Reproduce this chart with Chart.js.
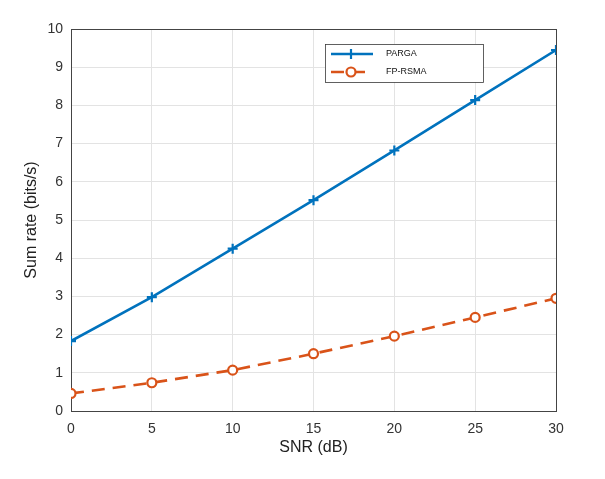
<!DOCTYPE html>
<html><head><meta charset="utf-8">
<script src="https://cdn.jsdelivr.net/npm/chart.js@4.4.1/dist/chart.umd.min.js"></script>
<style>html,body{margin:0;padding:0;background:#fff}#wrap{width:605px;height:479px}</style>
</head><body><div id="wrap"><canvas id="c"></canvas></div>
<script>
const snr = [0, 5, 10, 15, 20, 25, 30];
const parga = [1.83, 2.98, 4.25, 5.52, 6.82, 8.14, 9.45];
const fprsma = [0.46, 0.74, 1.07, 1.50, 1.96, 2.45, 2.95];
const seriesNames = ['PARGA', 'FP-RSMA'];
const FONT = "'Liberation Sans', Arial, sans-serif";

const legendBox = {
  id: 'legendBox',
  afterDraw(chart) {
    const ctx = chart.ctx;
    const x0 = 325, y0 = 44, w = 158, h = 38;
    ctx.save();
    ctx.fillStyle = '#fff';
    ctx.fillRect(x0, y0, w, h);
    ctx.strokeStyle = '#3a3a3a';
    ctx.lineWidth = 0.8;
    ctx.strokeRect(x0 + 0.5, y0 + 0.5, w, h);
    chart.data.datasets.forEach((ds, i) => {
      const y = y0 + 10 + i * 18;
      ctx.strokeStyle = ds.borderColor;
      ctx.lineWidth = 2.5;
      ctx.setLineDash(ds.borderDash || []);
      ctx.beginPath();
      ctx.moveTo(331, y);
      ctx.lineTo(i === 0 ? 373 : 365, y);
      ctx.stroke();
      ctx.setLineDash([]);
      ctx.fillStyle = ds.pointBackgroundColor;
      ctx.strokeStyle = ds.borderColor;
      ctx.lineWidth = ds.pointBorderWidth;
      ctx.beginPath();
      if (ds.pointStyle === 'circle') {
        ctx.arc(351, y, ds.pointRadius, 0, Math.PI * 2);
        ctx.fill(); ctx.stroke();
      } else {
        ctx.moveTo(351 - ds.pointRadius, y); ctx.lineTo(351 + ds.pointRadius, y);
        ctx.moveTo(351, y - ds.pointRadius); ctx.lineTo(351, y + ds.pointRadius);
        ctx.stroke();
      }
      ctx.fillStyle = '#111';
      ctx.font = "9px " + FONT;
      ctx.textBaseline = 'middle';
      ctx.textAlign = 'left';
      ctx.fillText(ds.label, 386, y);
    });
    ctx.restore();
  }
};

new Chart(document.getElementById('c'), {
  type: 'line',
  data: {
    datasets: [
      {
        label: seriesNames[0],
        data: snr.map((x, i) => ({x, y: parga[i]})),
        borderColor: '#0072BD', backgroundColor: '#0072BD',
        borderWidth: 2.6, pointStyle: 'cross', pointRadius: 5, pointBorderWidth: 2.2,
        pointBackgroundColor: '#0072BD', tension: 0
      },
      {
        label: seriesNames[1],
        data: snr.map((x, i) => ({x, y: fprsma[i]})),
        borderColor: '#D95319', backgroundColor: '#fff',
        borderWidth: 2.6, borderDash: [13, 8], pointStyle: 'circle', pointRadius: 4.5, pointBorderWidth: 2.2,
        pointBackgroundColor: '#fff', tension: 0
      }
    ]
  },
  options: {
    responsive: true, maintainAspectRatio: false, animation: false,
    layout: { padding: { left: 22, top: 29, right: 49, bottom: 22 } },
    plugins: { legend: { display: false }, tooltip: { enabled: false } },
    scales: {
      x: {
        type: 'linear', min: 0, max: 30,
        ticks: { stepSize: 5, color: '#333', font: { family: FONT, size: 14 }, padding: 10 },
        grid: { color: '#e3e3e3', drawTicks: false },
        border: { color: '#444', width: 1 },
        title: { display: true, text: 'SNR (dB)', color: '#222', font: { family: FONT, size: 16 }, padding: { top: 0, bottom: 0 } },
        afterFit(s) { s.height = 46; }
      },
      y: {
        min: 0, max: 10,
        ticks: { stepSize: 1, color: '#333', font: { family: FONT, size: 14 }, padding: 8 },
        grid: { color: '#e3e3e3', drawTicks: false },
        border: { color: '#444', width: 1 },
        title: { display: true, text: 'Sum rate (bits/s)', color: '#222', font: { family: FONT, size: 16 }, padding: { top: 0, bottom: 0 } },
        afterFit(s) { s.width = 49; }
      },
      x2: {
        type: 'linear', position: 'top', min: 0, max: 30, display: true,
        ticks: { display: false }, grid: { display: false, drawTicks: false },
        border: { color: '#444', width: 1 }, afterFit(s) { s.height = 0; }
      },
      y2: {
        position: 'right', min: 0, max: 10, display: true,
        ticks: { display: false }, grid: { display: false, drawTicks: false },
        border: { color: '#444', width: 1 }, afterFit(s) { s.width = 0; }
      }
    }
  },
  plugins: [legendBox]
});
</script></body></html>
